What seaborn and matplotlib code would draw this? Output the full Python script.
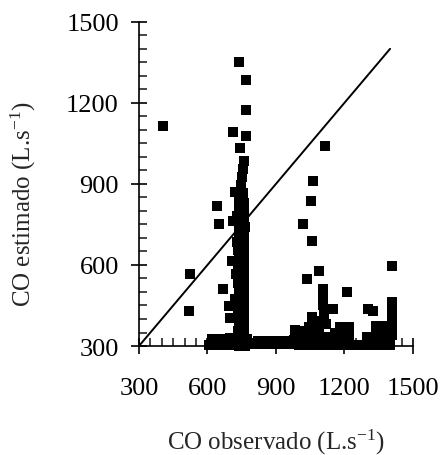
import matplotlib
matplotlib.use("Agg")
import matplotlib.pyplot as plt
import seaborn as sns
import pandas as pd
from matplotlib.ticker import MultipleLocator

# pontos isolados
obs_iso = [405, 525, 520, 642, 650, 668, 738, 768, 768, 712, 768, 742, 1115, 1062,
           1055, 1020, 1058, 1089, 1036, 1211, 1408, 1303, 1325, 1150]
est_iso = [1115, 565, 430, 818, 752, 511, 1352, 1285, 1174, 1093, 1078, 1033, 1041, 911,
           837, 752, 689, 578, 548, 500, 596, 437, 430, 437]

# coluna principal perto de 750
obs_col = [758, 756, 752, 748, 720, 755, 740, 762, 738, 760, 730, 712, 762, 740, 765,
           738, 762, 728, 762, 735, 760, 707, 738, 762, 735, 760, 725, 762, 735, 760,
           738, 762, 722, 760, 695, 738, 762, 700, 735, 760, 738, 762, 735, 760, 700,
           725, 750, 775, 715, 740, 765, 785]
est_col = [985, 955, 925, 895, 870, 865, 840, 830, 810, 800, 780, 763, 770, 745, 740,
           715, 705, 685, 675, 655, 645, 615, 625, 615, 595, 585, 565, 555, 535, 525,
           505, 495, 475, 465, 448, 445, 435, 405, 415, 405, 385, 375, 355, 345, 330,
           325, 320, 325, 305, 300, 300, 310]

# faixa de baixo
obs_base = [605, 645, 685, 800, 840, 880, 920, 960, 1000, 1040, 1080, 1120, 1160, 1200,
            1240, 1280, 1320, 1360, 1400,
            620, 665, 820, 860, 900, 940, 980, 1020, 1060, 1100, 1140, 1180, 1220,
            1300, 1340, 1380]
est_base = [303, 303, 303, 308, 308, 308, 308, 308, 303, 303, 303, 303, 303, 303,
            303, 303, 303, 303, 303,
            325, 325, 320, 320, 320, 320, 322, 332, 332, 332, 332, 332, 332,
            332, 332, 332]

# grupos de 1000-1150 e 1300-1400
obs_grp = [1105, 1105, 1108, 1112, 1058, 1093, 1075, 1045, 1120, 1160, 1090, 985, 1010,
           1200, 1180, 1220, 1408, 1408, 1408, 1408, 1408, 1340, 1365, 1340, 1365, 1300,
           1330, 1385]
est_grp = [511, 480, 450, 420, 407, 393, 375, 370, 380, 350, 350, 360, 355,
           345, 370, 370, 462, 430, 400, 370, 340, 375, 375, 345, 345, 330,
           330, 340]

line_x = [300, 1400]
line_y = [300, 1400]

obs = obs_iso + obs_col + obs_base + obs_grp
est = est_iso + est_col + est_base + est_grp
df = pd.DataFrame({"obs": obs, "est": est})

sns.set_style("ticks")
plt.rcParams['font.family'] = ['Liberation Serif', 'DejaVu Serif']
plt.rcParams['mathtext.fontset'] = 'custom'
plt.rcParams['mathtext.rm'] = 'Liberation Serif'
plt.rcParams['mathtext.it'] = 'Liberation Serif:italic'

fig = plt.figure(figsize=(4.44, 4.56), dpi=100)
ax = fig.add_axes([0.313, 0.239, 0.617, 0.711])

sns.scatterplot(data=df, x="obs", y="est", marker="s", s=42, color="black",
                edgecolor="black", linewidth=0, ax=ax, clip_on=False, zorder=3)
ax.plot(line_x, line_y, color="black", lw=1.4)

ax.set_xlim(300, 1500)
ax.set_ylim(300, 1500)
ax.xaxis.set_major_locator(MultipleLocator(300))
ax.yaxis.set_major_locator(MultipleLocator(300))
ax.xaxis.set_minor_locator(MultipleLocator(50))
ax.yaxis.set_minor_locator(MultipleLocator(50))
ax.tick_params(which="major", direction="inout", length=11, width=1.2, labelsize=19,
               colors="black")
ax.tick_params(axis="x", which="major", pad=17)
ax.tick_params(axis="y", which="major", pad=9)
ax.tick_params(which="minor", direction="in", length=6, width=1.2)

sns.despine(ax=ax)
for sp in ["left", "bottom"]:
    ax.spines[sp].set_linewidth(1.2)
    ax.spines[sp].set_color("black")

ax.set_xlabel("CO observado (L.s$^{-1}$)", fontsize=18)
ax.set_ylabel("CO estimado (L.s$^{-1}$)", fontsize=18)
ax.xaxis.set_label_coords(0.5, -0.25)
ax.yaxis.set_label_coords(-0.37, 0.44)

fig.savefig("out.png", dpi=100)
